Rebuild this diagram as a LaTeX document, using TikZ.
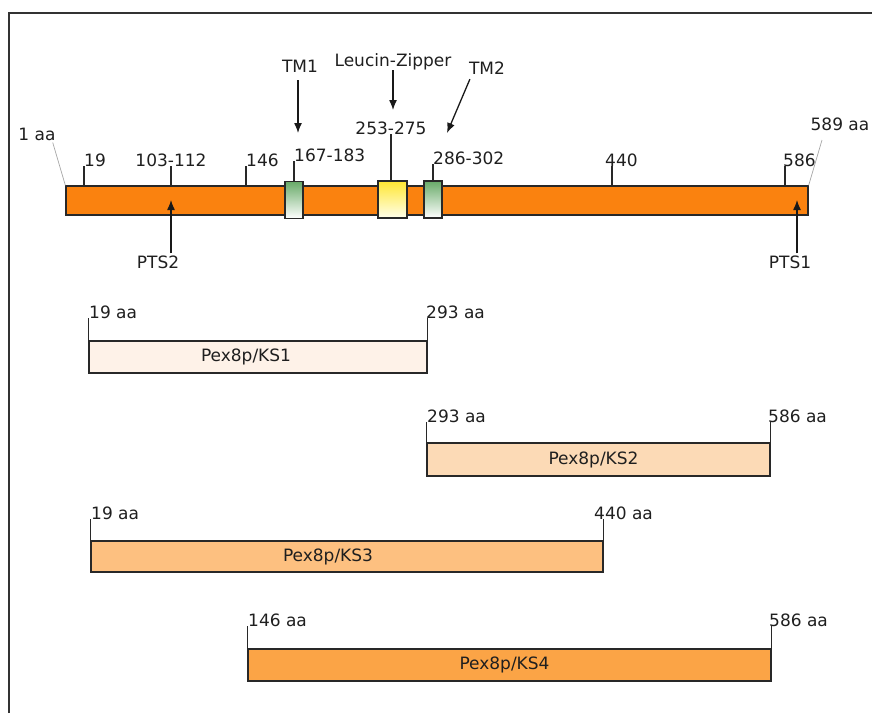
\documentclass[tikz,border=0pt]{standalone}
\usepackage{fontspec}
\setmainfont{DejaVu Sans}
\usetikzlibrary{arrows.meta,positioning,calc}

\definecolor{barorange}{RGB}{250,130,15}
\definecolor{ksone}{RGB}{254,242,232}
\definecolor{kstwo}{RGB}{252,218,182}
\definecolor{ksthree}{RGB}{253,192,128}
\definecolor{ksfour}{RGB}{251,164,70}
\definecolor{tmgreen}{RGB}{104,170,104}
\definecolor{lzyellow}{RGB}{255,230,50}
\definecolor{edge}{RGB}{40,40,40}

\begin{document}
\begin{tikzpicture}[
  x=1pt, y=-1pt,
  every node/.style={font=\fontsize{17}{20}\selectfont, text=black!88},
  num/.style={inner sep=0pt},
  mainbar/.style={rectangle, draw=edge, line width=1.3pt, fill=barorange, minimum width=742pt, minimum height=29pt, inner sep=0pt},
  tmbox/.style={rectangle, draw=edge, line width=1.3pt, top color=tmgreen, bottom color=white, minimum width=18pt, minimum height=37pt, inner sep=0pt},
  lzbox/.style={rectangle, draw=edge, line width=1.3pt, top color=lzyellow, bottom color=yellow!8, minimum width=29pt, minimum height=37pt, inner sep=0pt},
  seg/.style={rectangle, draw=edge, line width=1.3pt, minimum height=32pt, inner sep=0pt},
  tick/.style={draw=edge, line width=1.6pt},
  lead/.style={draw=gray!70, line width=0.7pt},
  arrow/.style={-{Latex[length=10pt, width=8pt]}, line width=1.3pt, draw=black!90},
  frame/.style={draw=black!80, line width=2.2pt}
]
\useasboundingbox (0,0) rectangle (872,713);
\draw[frame] (9,713) -- (9,13) -- (872,13);

\node[mainbar] (bar) at (437,200.5) {};
\node[tmbox] (tm1) at (294,200) {};
\node[lzbox] (lz) at (392.5,199.5) {};
\node[tmbox] (tm2) at (433,199.5) {};

\node[num, anchor=base west] (n19) at (84,166) {19};
\node[num, anchor=base] (n103) at (171,166) {103-112};
\node[num, anchor=base west] (n146) at (246,166) {146};
\node[num, anchor=base west] (n167) at (294,161) {167-183};
\node[num, anchor=base] (n253) at (391,134) {253-275};
\node[num, anchor=base west] (n286) at (433,164) {286-302};
\coordinate (t440) at (612,166);
\node[num, anchor=base west, xshift=-7pt] (n440) at (t440) {440};
\node[num, anchor=base west] (n586) at (783,166) {586};

\draw[tick] (n19.base west) -- (n19.base west |- bar.north);
\draw[tick] (n103.base) -- (n103.base |- bar.north);
\draw[tick] (n146.base west) -- (n146.base west |- bar.north);
\draw[tick] (n167.base west) -- (tm1.north);
\draw[tick, shorten <=-3pt] (n253.base) ++(0,3) -- (n253.base |- lz.north);
\draw[tick] (n286.base west) -- (tm2.north);
\draw[tick] (t440) -- (t440 |- bar.north);
\draw[tick] ([xshift=2pt]n586.base west) -- ([xshift=2pt]n586.base west |- bar.north);

\node[num] (aa1) at (37,134) {1 aa};
\node[num] (aa589) at (840,124) {589 aa};
\coordinate (e589) at (822,140);
\draw[lead] ([xshift=-3pt,yshift=-2pt]aa1.south east) -- (bar.north west);
\draw[lead] (e589) -- (bar.north east);

\node[num] (tm1lbl) at (300,66) {TM1};
\node[num] (lzlbl) at (393,62) {Leucin-Zipper};
\node[num] (tm2lbl) at (487,68) {TM2};
\coordinate (a1) at (298,133);
\coordinate (a2) at (447,133);
\coordinate (a3) at (393,110);
\draw[arrow, shorten <=8pt] (tm1lbl.south -| a1) -- (a1);
\draw[arrow] (lzlbl.south) -- (a3);
\draw[arrow, shorten <=5pt] ([xshift=3pt]tm2lbl.south west) -- (a2);

\node[num] (pts2) at (158,262) {PTS2};
\node[num] (pts1) at (790,262) {PTS1};
\coordinate (p2) at (171,200);
\coordinate (p1) at (797,200);
\draw[arrow, shorten <=2pt] (pts2.north -| p2) -- (p2);
\draw[arrow, shorten <=2pt] (pts1.north -| p1) -- (p1);

\node[seg, fill=ksone, minimum width=338pt] (ks1) at (258,357) {};
\node[seg, fill=kstwo, minimum width=343pt, minimum height=33pt] (ks2) at (598.5,459.5) {};
\node[seg, fill=ksthree, minimum width=512pt, minimum height=31pt] (ks3) at (347,556.5) {};
\node[seg, fill=ksfour, minimum width=523pt] (ks4) at (509.5,665) {};

\node at ([xshift=-12pt]ks1.center) {Pex8p/KS1};
\node at ([xshift=-5pt]ks2.center) {Pex8p/KS2};
\node at ([xshift=-19pt]ks3.center) {Pex8p/KS3};
\node at ([xshift=-5pt]ks4.center) {Pex8p/KS4};

\node[num, anchor=base west] (ks1s) at (89,318) {19 aa};
\node[num, anchor=base west] (ks1e) at (426,318) {293 aa};
\node[num, anchor=base west] (ks2s) at (427,422) {293 aa};
\node[num, anchor=base west] (ks2e) at (768,422) {586 aa};
\node[num, anchor=base west] (ks3s) at (91,519) {19 aa};
\node[num, anchor=base west] (ks3e) at (594,519) {440 aa};
\node[num, anchor=base west] (ks4s) at (248,626) {146 aa};
\node[num, anchor=base west] (ks4e) at (769,626) {586 aa};

\draw[tick] (ks1.north west) -- (ks1.north west |- ks1s.base);
\draw[tick] (ks1.north east) -- (ks1.north east |- ks1e.base);
\draw[tick] (ks2.north west) -- (ks2.north west |- ks2s.base);
\draw[tick] (ks2.north east) -- (ks2.north east |- ks2e.base);
\draw[tick] (ks3.north west) -- (ks3.north west |- ks3s.base);
\draw[tick] (ks3.north east) -- (ks3.north east |- ks3e.base);
\draw[tick] (ks4.north west) -- (ks4.north west |- ks4s.base);
\draw[tick] (ks4.north east) -- (ks4.north east |- ks4e.base);
\end{tikzpicture}
\end{document}
